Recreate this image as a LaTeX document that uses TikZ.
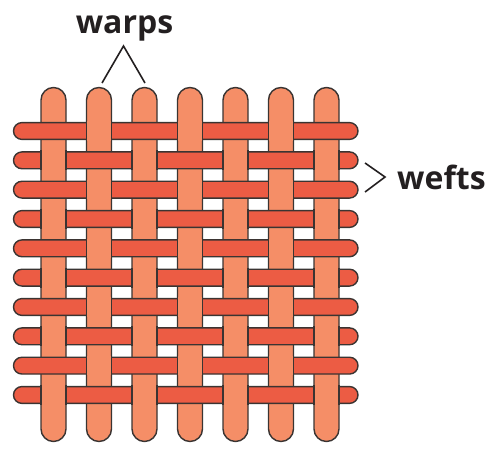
\documentclass[tikz,border=0pt]{standalone}
\usepackage{fontspec}
\setmainfont{Open Sans}
\usepackage{tikz}

\definecolor{warpcol}{HTML}{F58E67}
\definecolor{weftcol}{HTML}{EC5C44}
\definecolor{edgecol}{HTML}{3A3432}
\definecolor{inkcol}{HTML}{231F20}

\begin{document}
\begin{tikzpicture}[
                x=1pt, y=-1pt,
                warp/.style={draw=edgecol, fill=warpcol, line width=1.4pt, rounded corners=12.5pt},
                weft/.style={draw=edgecol, fill=weftcol, line width=1.4pt, rounded corners=8.4pt},
                lbl/.style={text=inkcol, font=\fontsize{32}{38}\selectfont\bfseries, inner sep=0pt},
                pointer/.style={draw=inkcol, line width=1.6pt}
            ]
                \useasboundingbox (0,0) rectangle (489,449);
                % warps below, wefts on top
                \foreach \i in {0,...,6}
                    \draw[warp] ({53.5+45.5*\i-12.5},87.5) rectangle ({53.5+45.5*\i+12.5},441.5);
                \foreach \j in {0,...,9}
                    \draw[weft] (13.5,{131+29.33*\j-8.4}) rectangle (358,{131+29.33*\j+8.4});
                % warp back on top where it crosses over
                \foreach \j in {0,...,9}
                    \foreach \i in {0,...,6} {
                        \pgfmathtruncatemacro{\over}{mod(\i+\j,2)}
                        \ifnum\over=1
                            \fill[warpcol] ({53.5+45.5*\i-11.8},{131+29.33*\j-9.6}) rectangle ({53.5+45.5*\i+11.8},{131+29.33*\j+9.6});
                            \draw[edgecol, line width=1.4pt] ({53.5+45.5*\i-12.5},{131+29.33*\j-10}) -- ({53.5+45.5*\i-12.5},{131+29.33*\j+10})
                                ({53.5+45.5*\i+12.5},{131+29.33*\j-10}) -- ({53.5+45.5*\i+12.5},{131+29.33*\j+10});
                        \fi
                    }
                % labels
                \node[lbl, anchor=base] (warps) at (124.5,33.5) {warps};
                \node[lbl, anchor=base west] (wefts) at (397,189.5) {wefts};
                \coordinate (wtop) at (123.5,46);
                \coordinate (wl) at (102,83);
                \coordinate (wr) at (145,83);
                \coordinate (fa) at (365,163);
                \coordinate (fb) at (385,177);
                \coordinate (fc) at (365,192);
                \draw[pointer] (wl) -- (wtop) -- (wr);
                \draw[pointer] (fa) -- (fb) -- (fc);
            \end{tikzpicture}
\end{document}
